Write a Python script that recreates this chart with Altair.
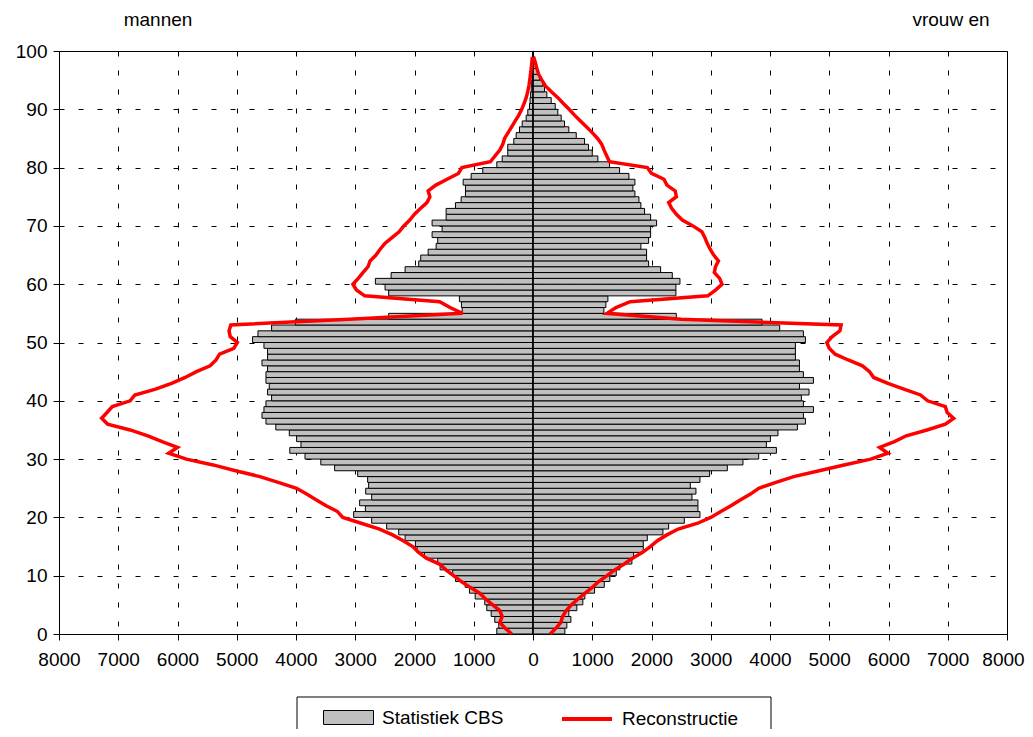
import altair as alt
import pandas as pd

ages = list(range(100))

men_cbs = [611, 578, 645, 706, 780, 814, 976, 1073, 1145, 1309,
           1355, 1568, 1608, 1833, 1956, 1985, 2159, 2267, 2470, 2723,
           3027, 2829, 2926, 2723, 2824, 2774, 2791, 2959, 3348, 3581,
           3848, 4105, 3916, 3990, 4113, 4341, 4507, 4574, 4541, 4507,
           4412, 4480, 4451, 4507, 4507, 4480, 4574, 4480, 4480, 4541,
           4733, 4642, 4412, 4012, 2436, 1196, 1208, 1242, 2436, 2497,
           2660, 2395, 2159, 1929, 1895, 1770, 1635, 1608, 1703, 1534,
           1703, 1466, 1466, 1309, 1213, 1140, 1140, 1179, 1044, 848,
           611, 520, 426, 426, 324, 284, 228, 182, 115, 88,
           59, 50, 40, 30, 22, 15, 10, 7, 4, 2]

women_cbs = [538, 571, 639, 605, 740, 841, 875, 1039, 1203, 1297,
             1405, 1466, 1669, 1698, 1861, 1861, 1929, 2193, 2289, 2554,
             2818, 2784, 2784, 2683, 2750, 2655, 2818, 2981, 3280, 3544,
             3809, 4108, 3939, 4007, 4135, 4463, 4598, 4564, 4733, 4564,
             4530, 4659, 4497, 4733, 4564, 4497, 4497, 4429, 4429, 4429,
             4598, 4564, 4164, 3866, 2418, 1196, 1230, 1264, 2412, 2412,
             2480, 2351, 2154, 1951, 1917, 1917, 1821, 1951, 1985, 1985,
             2086, 1985, 1883, 1821, 1788, 1720, 1686, 1720, 1619, 1461,
             1292, 1095, 1000, 937, 870, 730, 605, 532, 476, 419,
             375, 307, 234, 194, 166, 110, 82, 54, 25, 8]

men_recon = [360, 470, 560, 520, 560, 680, 800, 900, 1060, 1210,
             1340, 1470, 1580, 1800, 1930, 2030, 2190, 2370, 2590, 2900,
             3210, 3300, 3490, 3655, 3820, 3990, 4300, 4610, 5020, 5400,
             5850, 6150, 6000, 6260, 6500, 6800, 7180, 7280, 7190, 7100,
             6800, 6720, 6370, 6100, 5870, 5680, 5450, 5350, 5290, 5050,
             4990, 5110, 5130, 5100, 3100, 1190, 1400, 1575, 2840, 2980,
             3040, 2950, 2870, 2784, 2750, 2650, 2580, 2500, 2380, 2260,
             2180, 2080, 2000, 1900, 1790, 1740, 1770, 1640, 1450, 1260,
             1200, 720, 640, 560, 510, 480, 420, 360, 300, 240,
             190, 150, 115, 90, 70, 55, 42, 30, 20, 12]

women_recon = [290, 390, 470, 500, 560, 650, 760, 880, 1000, 1110,
               1250, 1380, 1540, 1680, 1850, 1980, 2100, 2260, 2450, 2780,
               3000, 3170, 3340, 3497, 3670, 3810, 4100, 4400, 4830, 5250,
               5700, 5990, 5850, 6100, 6300, 6650, 6960, 7100, 6990, 6960,
               6660, 6540, 6260, 5990, 5750, 5680, 5560, 5320, 5100, 5000,
               4960, 5050, 5180, 5200, 2500, 1250, 1400, 1640, 2950, 3080,
               3190, 3150, 3060, 3080, 3130, 3050, 2990, 2940, 2900, 2850,
               2700, 2520, 2420, 2340, 2290, 2420, 2400, 2260, 2210, 2000,
               1930, 1290, 1245, 1200, 1160, 1090, 1000, 900, 800, 700,
               610, 512, 420, 310, 210, 150, 95, 65, 40, 10]

series_names = ["Statistiek CBS", "Reconstructie"]
series_colors = ["#C0C0C0", "#FF0000"]
side_titles = ["mannen", "vrouw en"]
x_ticks = list(range(-8000, 8001, 1000))
y_ticks = list(range(0, 101, 5))

bars_df = pd.DataFrame({
    "age": ages + ages,
    "age_end": [a + 1 for a in ages] * 2,
    "start": [0] * 200,
    "value": [-v for v in men_cbs] + women_cbs,
    "series": [series_names[0]] * 200,
    "side": ["m"] * 100 + ["v"] * 100,
})

lines_df = pd.DataFrame({
    "age": ages + ages,
    "value": [-v for v in men_recon] + women_recon,
    "series": [series_names[1]] * 200,
    "side": ["m"] * 100 + ["v"] * 100,
})

zero_df = pd.DataFrame({"zero": [0], "lo": [0], "hi": [100]})

FONT = "Liberation Sans"

xscale = alt.Scale(domain=[-8000, 8000], nice=False, zero=False)
yscale = alt.Scale(domain=[0, 100], nice=False)

common_legend = dict(
    title=None,
    orient="none",
    direction="horizontal",
    padding=0,
    labelFont=FONT,
    labelFontSize=19,
    labelColor="black",
    labelOffset=8,
    symbolSize=2500,
    symbolOffset=0,
    symbolOpacity=1,
)

bar_legend = alt.Legend(
    legendX=264, legendY=641,
    symbolType="M-1,-0.28H1V0.28H-1Z",
    symbolStrokeColor="black",
    symbolStrokeWidth=1,
    **common_legend,
)
line_legend = alt.Legend(
    legendX=501, legendY=641,
    symbolType="M-1,0H1",
    symbolStrokeWidth=4,
    **common_legend,
)

x_axis = alt.Axis(
    values=x_ticks,
    title=None,
    labelExpr="'' + abs(datum.value)",
    labelOverlap=False,
    labelBound=False,
    labelFlush=False,
    labelOffset={"condition": {"test": "datum.value === 8000", "value": -4}, "value": 0},
    grid=True,
    tickSize=6,
    labelPadding=10,
)
y_axis = alt.Axis(
    values=y_ticks,
    title=None,
    labelOverlap=False,
    labelFlush=False,
    grid=True,
    tickSize=6,
    labelPadding=6,
)

bars = alt.Chart(bars_df).mark_bar(stroke="black", strokeWidth=1, opacity=1).encode(
    x=alt.X("value:Q", scale=xscale, axis=x_axis),
    x2="start:Q",
    y=alt.Y("age:Q", scale=yscale, axis=y_axis),
    y2="age_end:Q",
    fill=alt.Fill("series:N",
                  scale=alt.Scale(domain=[series_names[0]], range=[series_colors[0]]),
                  legend=bar_legend),
)

zero_rule = alt.Chart(zero_df).mark_rule(color="black", strokeWidth=1.5).encode(
    x=alt.X("zero:Q", scale=xscale),
    y=alt.Y("lo:Q", scale=yscale),
    y2="hi:Q",
)

lines = alt.Chart(lines_df).mark_line(strokeWidth=3.5).encode(
    x=alt.X("value:Q", scale=xscale),
    y=alt.Y("age:Q", scale=yscale),
    detail="side:N",
    order="age:Q",
    stroke=alt.Stroke("series:N",
                      scale=alt.Scale(domain=[series_names[1]], range=[series_colors[1]]),
                      legend=line_legend),
)

legend_box = alt.Chart(zero_df).mark_rect(
    fill="white", fillOpacity=0, stroke="black", strokeWidth=1
).encode(
    x=alt.value(238), x2=alt.value(712), y=alt.value(646), y2=alt.value(700)
)

t_men = alt.Chart(zero_df).mark_text(
    text=side_titles[0], font=FONT, fontSize=19, color="black", align="center", baseline="alphabetic"
).encode(x=alt.value(99), y=alt.value(-25))

t_women = alt.Chart(zero_df).mark_text(
    text=side_titles[1], font=FONT, fontSize=19, color="black", align="center", baseline="alphabetic"
).encode(x=alt.value(892), y=alt.value(-25))

chart = alt.layer(bars, zero_rule, lines, legend_box, t_men, t_women).resolve_scale(
    fill="independent", stroke="independent"
).properties(
    width=948,
    height=583,
    autosize=alt.AutoSizeParams(type="none"),
    padding={"left": 51, "top": 43, "right": 18, "bottom": 95},
    background="white",
).configure_view(
    stroke="black", strokeWidth=1
).configure_axis(
    gridColor="black",
    gridDash=[5, 14],
    gridOpacity=1,
    gridWidth=1,
    domainColor="black",
    domainWidth=1,
    tickColor="black",
    labelFont=FONT,
    labelFontSize=19,
    labelColor="black",
)

chart.save("out.html", embed_options={"renderer": "svg", "actions": False})
